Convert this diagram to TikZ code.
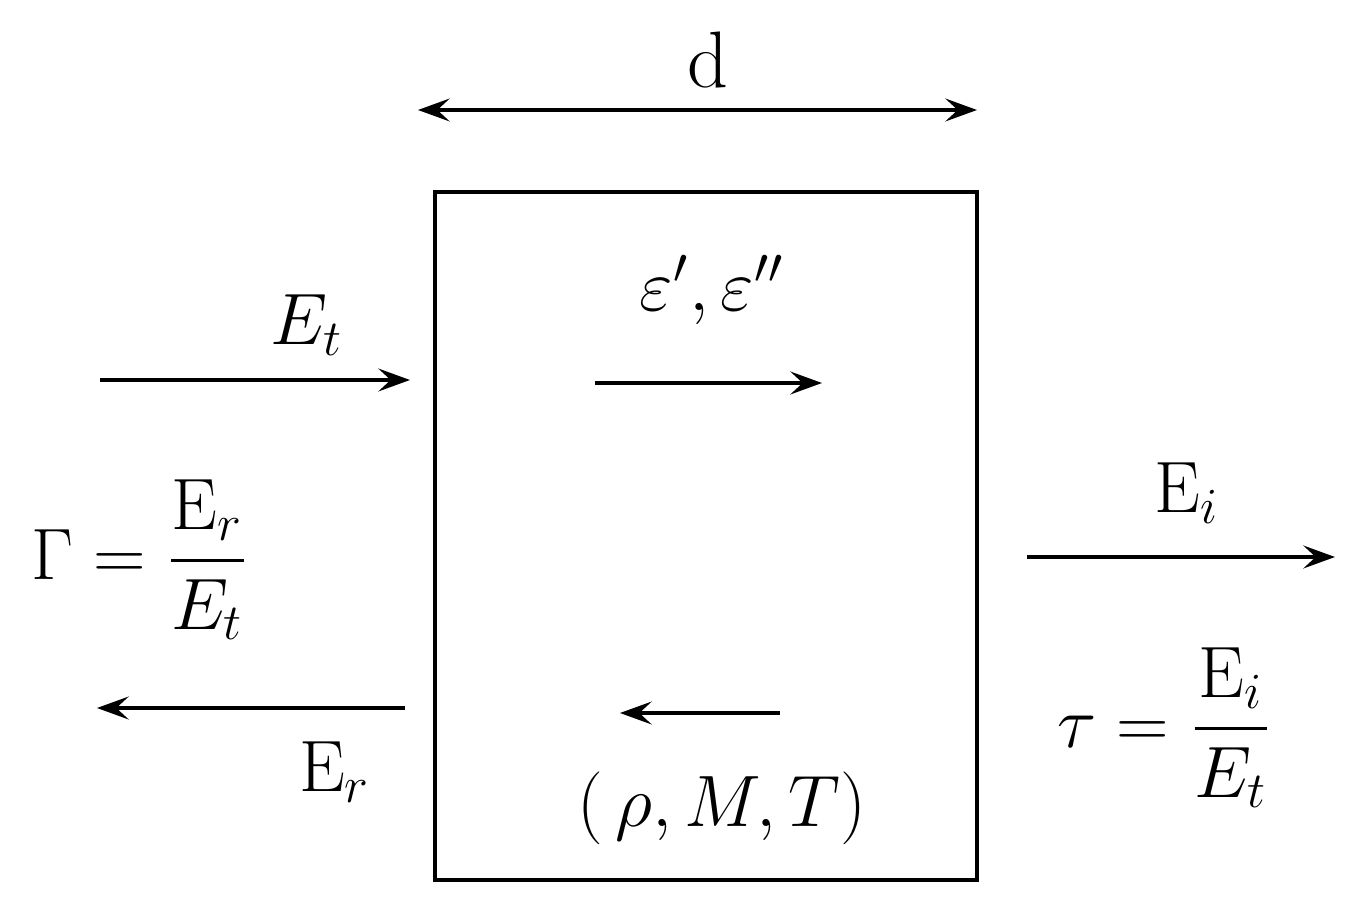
\documentclass[tikz,border=0pt]{standalone}
\usepackage{amsmath}
\usetikzlibrary{arrows.meta}
\begin{document}
\begin{tikzpicture}[x=0.02cm,y=-0.02cm,
  arr/.style={line width=2pt,-{Stealth[length=18pt,width=13pt,inset=7pt]}},
  lbl/.style={inner sep=0pt,font=\LARGE,scale=2.4,transform shape}]
\useasboundingbox (0,0) rectangle (1364,911);
\node[draw,line width=2.8pt,minimum width=542*0.02cm,minimum height=688*0.02cm,inner sep=0pt] (box) at (706,536) {};
\coordinate (dl) at (418,110); \coordinate (dr) at (977,110);
\draw[arr,{Stealth[length=18pt,width=13pt,inset=7pt]}-{Stealth[length=18pt,width=13pt,inset=7pt]}] (dl) -- (dr);
\node[lbl,scale=1.1] (d) at (708,60) {d};
\coordinate (a1) at (100,380); \coordinate (a2) at (410,380);
\draw[arr] (a1) -- (a2);
\node[lbl] (Et) at (307,325) {$E_t$};
\coordinate (b1) at (595,383); \coordinate (b2) at (822,383);
\draw[arr] (b1) -- (b2);
\node[lbl] (eps) at (712,290) {$\varepsilon', \varepsilon''$};
\node[lbl] (G) at (140,560) {$\Gamma = \dfrac{\mathrm{E}_r}{E_t}$};
\coordinate (c1) at (405,708); \coordinate (c2) at (97,708);
\draw[arr] (c1) -- (c2);
\node[lbl] (Er) at (335,772) {$\mathrm{E}_r$};
\coordinate (e1) at (780,713); \coordinate (e2) at (620,713);
\draw[arr] (e1) -- (e2);
\node[lbl] (rho) at (722,808) {$(\,\rho,M,T)$};
\coordinate (f1) at (1027,557); \coordinate (f2) at (1335,557);
\draw[arr] (f1) -- (f2);
\node[lbl] (Ei) at (1187,493) {$\mathrm{E}_i$};
\node[lbl] (tau) at (1165,728) {$\tau = \dfrac{\mathrm{E}_i}{E_t}$};
\end{tikzpicture}
\end{document}
